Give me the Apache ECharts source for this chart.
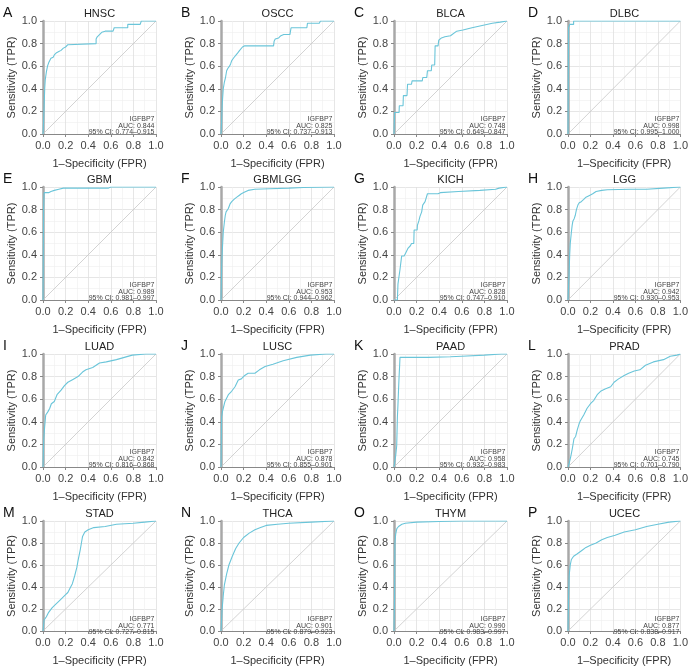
<!DOCTYPE html>
<html><head><meta charset="utf-8">
<script src="https://cdn.jsdelivr.net/npm/echarts@6/dist/echarts.min.js"></script>
<style>html,body{margin:0;padding:0;background:#fff}#c{width:691px;height:667px}</style>
</head><body><div id="c"></div>
<script>
const panelNames = ['HNSC','OSCC','BLCA','DLBC','GBM','GBMLGG','KICH','LGG','LUAD','LUSC','PAAD','PRAD','STAD','THCA','THYM','UCEC'];
const panelLetters = ['A','B','C','D','E','F','G','H','I','J','K','L','M','N','O','P'];
const markerName = 'IGFBP7';
const aucValues = ['0.844','0.825','0.748','0.998','0.989','0.953','0.828','0.942','0.842','0.878','0.958','0.745','0.771','0.901','0.990','0.877'];
const ciValues = ['0.774–0.915','0.737–0.913','0.649–0.847','0.995–1.000','0.981–0.997','0.944–0.962','0.747–0.910','0.930–0.953','0.816–0.868','0.855–0.901','0.932–0.983','0.701–0.790','0.727–0.815','0.879–0.923','0.983–0.997','0.838–0.917'];
const tickLabels = ['0.0','0.2','0.4','0.6','0.8','1.0'];
const diagonal = [[0,0],[1,1]];

const HNSC = [[0,0],[0.005,0.1],[0.01,0.25],[0.015,0.4],[0.02,0.48],[0.03,0.55],[0.04,0.6],[0.05,0.63],[0.07,0.67],[0.09,0.68],[0.1,0.7],[0.12,0.72],[0.14,0.73],[0.16,0.74],[0.18,0.76],[0.2,0.77],[0.22,0.79],[0.23,0.8],[0.47,0.8],[0.47,0.84],[0.48,0.86],[0.5,0.88],[0.52,0.9],[0.55,0.91],[0.62,0.91],[0.63,0.94],[0.75,0.94],[0.75,0.97],[0.86,0.97],[0.87,1],[1,1]];
const OSCC = [[0,0],[0.005,0.1],[0.01,0.25],[0.02,0.4],[0.03,0.46],[0.04,0.5],[0.05,0.56],[0.06,0.58],[0.075,0.6],[0.085,0.62],[0.095,0.65],[0.11,0.67],[0.125,0.69],[0.14,0.7],[0.15,0.72],[0.165,0.74],[0.18,0.75],[0.19,0.77],[0.21,0.78],[0.465,0.78],[0.47,0.82],[0.48,0.84],[0.51,0.85],[0.53,0.87],[0.555,0.88],[0.61,0.88],[0.62,0.94],[0.76,0.94],[0.765,0.98],[0.87,0.98],[0.88,1],[1,1]];
const BLCA = [[0,0],[0.005,0],[0.005,0.19],[0.045,0.19],[0.047,0.25],[0.08,0.25],[0.083,0.34],[0.115,0.34],[0.12,0.44],[0.155,0.44],[0.16,0.47],[0.25,0.47],[0.255,0.5],[0.29,0.5],[0.296,0.56],[0.33,0.56],[0.334,0.61],[0.36,0.61],[0.364,0.78],[0.39,0.78],[0.396,0.83],[0.42,0.85],[0.45,0.86],[0.5,0.87],[0.51,0.88],[0.555,0.91],[0.61,0.92],[0.69,0.94],[0.78,0.96],[0.87,0.98],[0.94,0.99],[1,1]];
const DLBC = [[0,0],[0.005,0],[0.005,0.94],[0.015,0.94],[0.015,0.97],[0.05,0.97],[0.05,1],[1,1]];
const GBM = [[0,0],[0.005,0],[0.005,0.8],[0.01,0.95],[0.05,0.95],[0.07,0.96],[0.1,0.97],[0.14,0.98],[0.18,0.99],[0.58,0.99],[0.6,1],[1,1]];
const GBMLGG = [[0,0],[0.003,0.15],[0.006,0.31],[0.012,0.45],[0.02,0.6],[0.03,0.69],[0.038,0.75],[0.045,0.78],[0.065,0.81],[0.08,0.85],[0.095,0.87],[0.115,0.89],[0.14,0.91],[0.16,0.925],[0.18,0.94],[0.21,0.955],[0.24,0.97],[0.3,0.98],[0.43,0.985],[0.6,0.99],[0.73,0.995],[1,1]];
const KICH = [[0,0],[0.03,0],[0.035,0.14],[0.05,0.14],[0.053,0.27],[0.065,0.27],[0.068,0.39],[0.09,0.39],[0.1,0.41],[0.11,0.43],[0.125,0.46],[0.145,0.48],[0.155,0.5],[0.175,0.5],[0.178,0.62],[0.205,0.62],[0.207,0.66],[0.22,0.7],[0.23,0.74],[0.245,0.78],[0.254,0.84],[0.275,0.87],[0.29,0.87],[0.296,0.94],[0.39,0.94],[0.41,0.95],[0.57,0.96],[0.76,0.97],[0.9,0.98],[0.93,0.99],[1,1]];
const LGG = [[0,0],[0.004,0.1],[0.009,0.22],[0.015,0.4],[0.02,0.5],[0.03,0.6],[0.037,0.66],[0.044,0.7],[0.055,0.72],[0.065,0.75],[0.075,0.8],[0.088,0.84],[0.1,0.86],[0.118,0.87],[0.14,0.89],[0.16,0.91],[0.2,0.93],[0.22,0.94],[0.25,0.96],[0.3,0.97],[0.35,0.975],[0.55,0.98],[0.7,0.98],[0.85,0.99],[1,1]];
const LUAD = [[0,0],[0.003,0.12],[0.006,0.24],[0.015,0.36],[0.024,0.46],[0.044,0.49],[0.06,0.52],[0.074,0.56],[0.1,0.58],[0.124,0.64],[0.16,0.68],[0.19,0.72],[0.22,0.75],[0.265,0.775],[0.31,0.8],[0.35,0.84],[0.38,0.86],[0.44,0.88],[0.5,0.92],[0.56,0.93],[0.65,0.95],[0.72,0.97],[0.79,0.99],[0.91,1],[1,1]];
const LUSC = [[0,0],[0.005,0],[0.005,0.44],[0.015,0.5],[0.035,0.58],[0.065,0.64],[0.094,0.67],[0.124,0.71],[0.153,0.77],[0.18,0.78],[0.21,0.81],[0.24,0.83],[0.3,0.83],[0.34,0.86],[0.39,0.89],[0.46,0.91],[0.55,0.94],[0.67,0.97],[0.79,0.99],[0.93,1],[1,1]];
const PAAD = [[0,0],[0.01,0],[0.015,0.1],[0.024,0.19],[0.03,0.44],[0.035,0.55],[0.04,0.68],[0.045,0.8],[0.05,0.9],[0.053,0.97],[0.3,0.97],[0.5,0.975],[0.6,0.98],[0.8,0.99],[0.95,1],[1,1]];
const PRAD = [[0,0],[0.01,0.03],[0.024,0.09],[0.038,0.16],[0.053,0.25],[0.068,0.27],[0.083,0.33],[0.098,0.38],[0.11,0.41],[0.14,0.46],[0.17,0.52],[0.2,0.56],[0.23,0.59],[0.26,0.64],[0.29,0.67],[0.33,0.69],[0.38,0.71],[0.41,0.75],[0.45,0.78],[0.5,0.81],[0.54,0.83],[0.59,0.85],[0.64,0.86],[0.69,0.9],[0.76,0.93],[0.85,0.95],[0.91,0.98],[0.97,0.99],[1,1]];
const STAD = [[0,0],[0.005,0.05],[0.01,0.1],[0.03,0.13],[0.05,0.17],[0.08,0.21],[0.1,0.23],[0.13,0.26],[0.16,0.29],[0.2,0.33],[0.22,0.35],[0.24,0.39],[0.26,0.43],[0.28,0.5],[0.3,0.58],[0.31,0.64],[0.33,0.74],[0.34,0.8],[0.35,0.86],[0.37,0.9],[0.4,0.92],[0.45,0.94],[0.55,0.95],[0.65,0.97],[0.8,0.98],[0.9,0.99],[1,1]];
const THCA = [[0,0],[0.005,0.1],[0.01,0.2],[0.02,0.32],[0.03,0.42],[0.05,0.52],[0.07,0.6],[0.1,0.68],[0.13,0.75],[0.16,0.8],[0.2,0.85],[0.25,0.89],[0.3,0.92],[0.35,0.94],[0.4,0.96],[0.5,0.97],[0.6,0.98],[0.8,0.99],[1,1]];
const THYM = [[0,0],[0.005,0.3],[0.008,0.8],[0.015,0.88],[0.025,0.93],[0.04,0.95],[0.07,0.97],[0.1,0.98],[0.2,0.99],[0.4,0.995],[0.6,1],[1,1]];
const UCEC = [[0,0],[0.005,0.3],[0.01,0.5],[0.02,0.6],[0.03,0.65],[0.05,0.68],[0.08,0.7],[0.12,0.73],[0.16,0.76],[0.2,0.78],[0.25,0.8],[0.3,0.83],[0.35,0.85],[0.42,0.87],[0.5,0.9],[0.6,0.92],[0.7,0.95],[0.8,0.97],[0.9,0.99],[1,1]];

const curves = [HNSC,OSCC,BLCA,DLBC,GBM,GBMLGG,KICH,LGG,LUAD,LUSC,PAAD,PRAD,STAD,THCA,THYM,UCEC];

const colLeft = [43, 221, 394, 568];
const rowTop = [21, 187, 354, 521];
const W = 113, H = 113;
const FONT = '"Liberation Sans", Arial, Helvetica, sans-serif';
const curveColor = '#6ac5d9';

const grids = [], xAxes = [], yAxes = [], series = [], graphics = [];
const fmt = v => tickLabels[Math.round(v / 0.2)] || '';

for (let i = 0; i < 16; i++) {
  const r = Math.floor(i / 4), c = i % 4;
  const L = colLeft[c], T = rowTop[r];
  grids.push({ left: L, top: T, width: W, height: H, containLabel: false });
  const common = {
    gridIndex: i, type: 'value', min: 0, max: 1, interval: 0.2,
    nameLocation: 'middle',
    nameTextStyle: { fontFamily: FONT, fontSize: 11, color: '#333' },
    axisLabel: { fontFamily: FONT, fontSize: 11, color: '#444', formatter: fmt },
    axisTick: { show: true, length: 3, lineStyle: { color: '#888', width: 1 } },
    minorTick: { show: false, splitNumber: 2 },
    splitLine: { show: true, lineStyle: { color: '#e0e0e0', width: 0.8 } },
    minorSplitLine: { show: true, lineStyle: { color: '#eeeeee', width: 0.6 } }
  };
  xAxes.push(Object.assign({}, common, {
    name: '1–Specificity (FPR)', nameGap: 24,
    axisLine: { show: true, lineStyle: { color: '#888', width: 1 } },
    axisLabel: Object.assign({}, common.axisLabel, { margin: 6 })
  }));
  yAxes.push(Object.assign({}, common, {
    name: 'Sensitivity (TPR)', nameGap: 24,
    axisLine: { show: true, lineStyle: { color: '#a8a8a8', width: 2.5 } },
    axisLabel: Object.assign({}, common.axisLabel, { margin: 6 })
  }));
  series.push({
    type: 'line', xAxisIndex: i, yAxisIndex: i, data: diagonal, symbol: 'none',
    silent: true, lineStyle: { color: '#c8c8c8', width: 0.8 }, z: 2
  });
  series.push({
    type: 'line', xAxisIndex: i, yAxisIndex: i, data: curves[i], symbol: 'none',
    silent: true, lineStyle: { color: curveColor, width: 1.1 }, z: 3
  });
  graphics.push({ type: 'text', left: L - 40, top: T - 15, z: 10,
    style: { text: panelLetters[i], font: '14px ' + FONT, fill: '#111' } });
  graphics.push({ type: 'text', x: L + W / 2, y: T - 7.5, z: 10,
    style: { text: panelNames[i], font: '11px ' + FONT, fill: '#222', textAlign: 'center', textVerticalAlign: 'middle' } });
  const ann = [markerName, 'AUC: ' + aucValues[i], '95% CI: ' + ciValues[i]];
  const offs = [98.5, 104.8, 111];
  for (let k = 0; k < 3; k++) {
    graphics.push({ type: 'text', x: L + W - 1.5, y: T + offs[k], z: 10,
      style: { text: ann[k], font: '7px ' + FONT, fill: '#444', textAlign: 'right', textVerticalAlign: 'middle' } });
  }
}

const chart = echarts.init(document.getElementById('c'), null, { renderer: 'canvas' });
chart.setOption({
  animation: false,
  backgroundColor: '#fff',
  grid: grids, xAxis: xAxes, yAxis: yAxes, series: series,
  graphic: { elements: graphics }
});
</script></body></html>
